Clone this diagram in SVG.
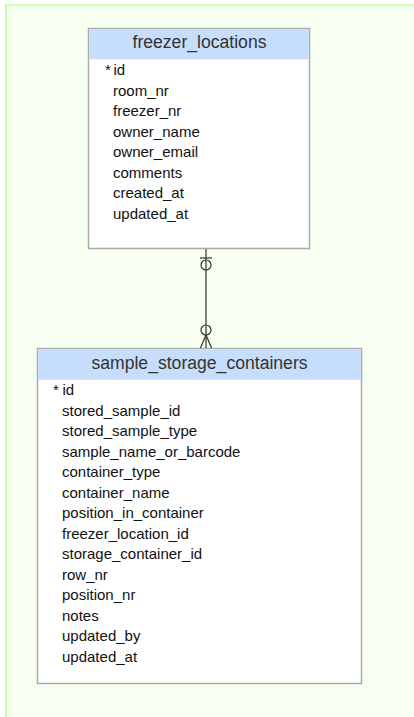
<svg xmlns="http://www.w3.org/2000/svg" width="414" height="717" viewBox="0 0 414 717">
<style>
.bg{fill:#f7fff0;stroke:#ccffaa;stroke-width:2}
.box{fill:#ffffff;stroke:#aaaaaa;stroke-width:1.5}
.hdr{fill:#c6defc}
.title{font-family:"Liberation Sans",Arial,sans-serif;font-size:17.6px;fill:#333333;text-anchor:middle}
.row{font-family:"Liberation Sans",Arial,sans-serif;font-size:15px;fill:#111111}
.conn{stroke:#333333;stroke-width:1.2;fill:none}
</style>
<rect class="bg" x="6" y="5" width="420" height="720"/>
<g id="freezer_locations">
<rect class="box" x="88.5" y="28.5" width="221" height="220"/>
<rect class="hdr" x="89.25" y="29.25" width="219.5" height="30"/>
<text class="title" x="199.5" y="48">freezer_locations</text>
<text class="row" x="105" y="75">*</text>
<text class="row" x="113.5" y="75">id</text>
<text class="row" x="113" y="95.5">room_nr</text>
<text class="row" x="113" y="116">freezer_nr</text>
<text class="row" x="113" y="136.5">owner_name</text>
<text class="row" x="113" y="157">owner_email</text>
<text class="row" x="113" y="177.5">comments</text>
<text class="row" x="113" y="198">created_at</text>
<text class="row" x="113" y="218.5">updated_at</text>
</g>
<g id="sample_storage_containers">
<rect class="box" x="37.5" y="348.5" width="324" height="335"/>
<rect class="hdr" x="38.25" y="349.25" width="322.5" height="30.5"/>
<text class="title" x="199.5" y="369">sample_storage_containers</text>
<text class="row" x="53" y="395">*</text>
<text class="row" x="62.5" y="395">id</text>
<text class="row" x="62" y="415.5">stored_sample_id</text>
<text class="row" x="62" y="436">stored_sample_type</text>
<text class="row" x="62" y="456.5">sample_name_or_barcode</text>
<text class="row" x="62" y="477">container_type</text>
<text class="row" x="62" y="497.5">container_name</text>
<text class="row" x="62" y="518">position_in_container</text>
<text class="row" x="62" y="538.5">freezer_location_id</text>
<text class="row" x="62" y="559">storage_container_id</text>
<text class="row" x="62" y="579.5">row_nr</text>
<text class="row" x="62" y="600">position_nr</text>
<text class="row" x="62" y="620.5">notes</text>
<text class="row" x="62" y="641">updated_by</text>
<text class="row" x="62" y="661.5">updated_at</text>
</g>
<g id="connectors">
<line class="conn" x1="206" y1="249" x2="206" y2="348"/>
<line class="conn" x1="200" y1="258" x2="212" y2="258"/>
<circle class="conn" cx="206" cy="265" r="5" fill="#f7fff0"/>
<circle class="conn" cx="206" cy="330" r="5" fill="#f7fff0"/>
<line class="conn" x1="206" y1="335" x2="200.5" y2="348"/>
<line class="conn" x1="206" y1="335" x2="211.5" y2="348"/>
</g>
</svg>
